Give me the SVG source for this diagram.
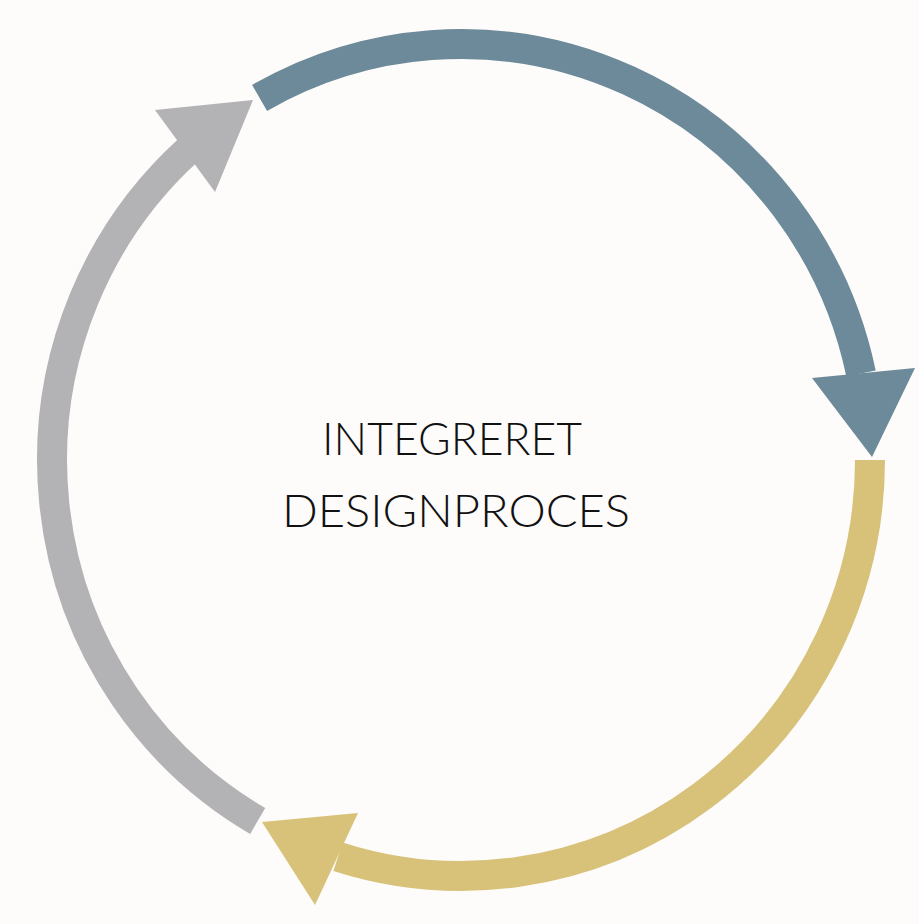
<svg xmlns="http://www.w3.org/2000/svg" width="919" height="924" viewBox="0 0 919 924">
  <style>
    .arc { fill: none; stroke-width: 30; stroke-linecap: butt; }
    .blue { stroke: #6c8a99; }
    .blueF { fill: #6c8a99; }
    .yellow { stroke: #d8c27a; }
    .yellowF { fill: #d8c27a; }
    .grey { stroke: #b3b3b5; }
    .greyF { fill: #b3b3b5; }
    .label { font-family: "Lato", "Liberation Sans", sans-serif; font-weight: 300; font-size: 46px; fill: #111111; text-anchor: middle; }
  </style>
  <rect x="0" y="0" width="919" height="924" fill="#fdfcfb"/>
  <g id="connectors">
    <g id="arrow-blue">
      <path class="arc blue" d="M259.6,97.9 A409,416 0 0 1 861,373.5"/>
      <polygon class="blueF" points="812,378 915,368 872,457"/>
    </g>
    <g id="arrow-yellow">
      <path class="arc yellow" d="M870,460 A409,416 0 0 1 338,856.7"/>
      <polygon class="yellowF" points="358,813 315,905 262,822"/>
    </g>
    <g id="arrow-grey">
      <path class="arc grey" d="M257.7,821 A409,416 0 0 1 188.4,150"/>
      <polygon class="greyF" points="155,110 215,192 253,100"/>
    </g>
  </g>
  <g id="center-label">
    <text class="label" x="452" y="455" textLength="260" lengthAdjust="spacingAndGlyphs">INTEGRERET</text>
    <text class="label" x="456" y="527" textLength="348" lengthAdjust="spacingAndGlyphs">DESIGNPROCES</text>
  </g>
</svg>
